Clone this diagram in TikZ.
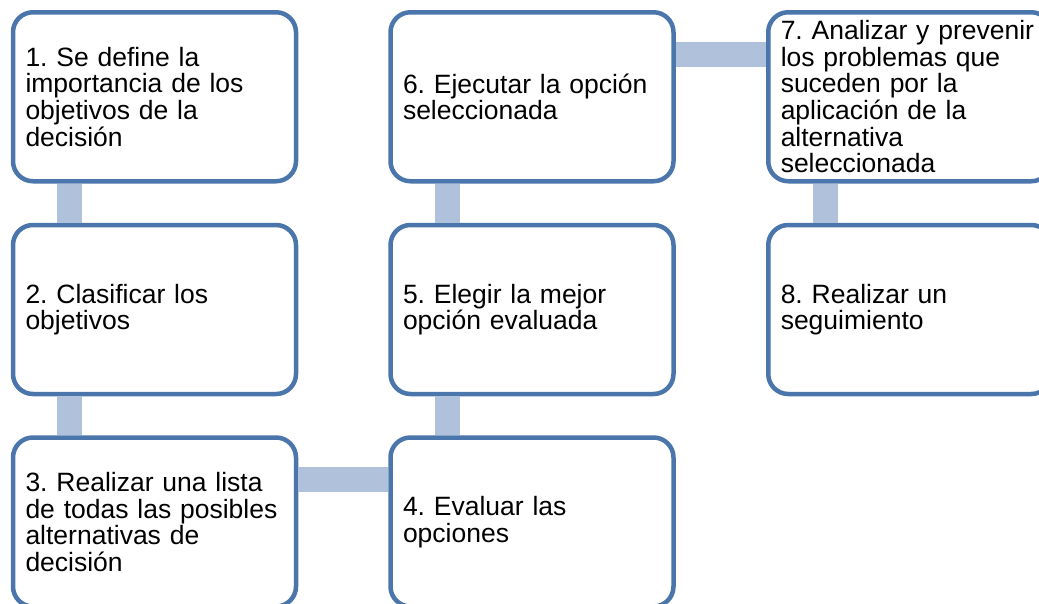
\documentclass[tikz,border=0pt]{standalone}
\usepackage{fontspec}
\setmainfont{Liberation Sans}
\usetikzlibrary{calc}
\frenchspacing
\hyphenpenalty=10000
\definecolor{boxblue}{RGB}{74,118,172}
\definecolor{connblue}{RGB}{176,193,220}
\tikzset{
  stepbox/.style={draw=boxblue, line width=4.5pt, fill=white, rounded corners=20pt,
    minimum width=283pt, minimum height=169pt, text width=258pt, inner xsep=0pt,
    inner ysep=0pt, align=left, font=\fontsize{26.5}{26.7}\selectfont\frenchspacing},
  conn/.style={draw=connblue, line width=25pt}
}
\begin{document}
\begin{tikzpicture}[x=1pt,y=-1pt]
\path[use as bounding box] (0,0) rectangle (1039,603);
\clip (0,0) rectangle (1039,603);
\fill[white] (0,0) rectangle (1039,603);
% boxes
\node[stepbox] (n1) at (154.5,96.75) {1. Se define la\\importancia de los\\objetivos de la\\decisión};
\node[stepbox] (n2) at (154.5,309.5) {2. Clasificar los\\objetivos};
\node[stepbox] (n3) at (154.5,522) {3. Realizar una lista\\de todas las posibles\\alternativas de\\decisión};
\node[stepbox] (n4) at (532,522) {4. Evaluar las\\opciones};
\node[stepbox] (n5) at (532,309.5) {5. Elegir la mejor\\opción evaluada};
\node[stepbox] (n6) at (532,96.75) {6. Ejecutar la opción\\seleccionada};
\node[stepbox] (n7) at (909.75,96.75) {7. Analizar y prevenir\\los problemas que\\suceden por la\\aplicación de la\\alternativa\\seleccionada};
\node[stepbox] (n8) at (909.75,309.5) {8. Realizar un\\seguimiento};
% connectors
\draw[conn] ($(n1.south west)+(59,0)$) -- ($(n2.north west)+(59,0)$);
\draw[conn] ($(n2.south west)+(59,0)$) -- ($(n3.north west)+(59,0)$);
\draw[conn] ($(n3.north east)+(0,44.5)$) -- ($(n4.north west)+(0,44.5)$);
\draw[conn] ($(n4.north west)+(59,0)$) -- ($(n5.south west)+(59,0)$);
\draw[conn] ($(n5.north west)+(59,0)$) -- ($(n6.south west)+(59,0)$);
\draw[conn] ($(n6.north east)+(0,44.5)$) -- ($(n7.north west)+(0,44.5)$);
\draw[conn] ($(n7.south west)+(59,0)$) -- ($(n8.north west)+(59,0)$);
\end{tikzpicture}
\end{document}
